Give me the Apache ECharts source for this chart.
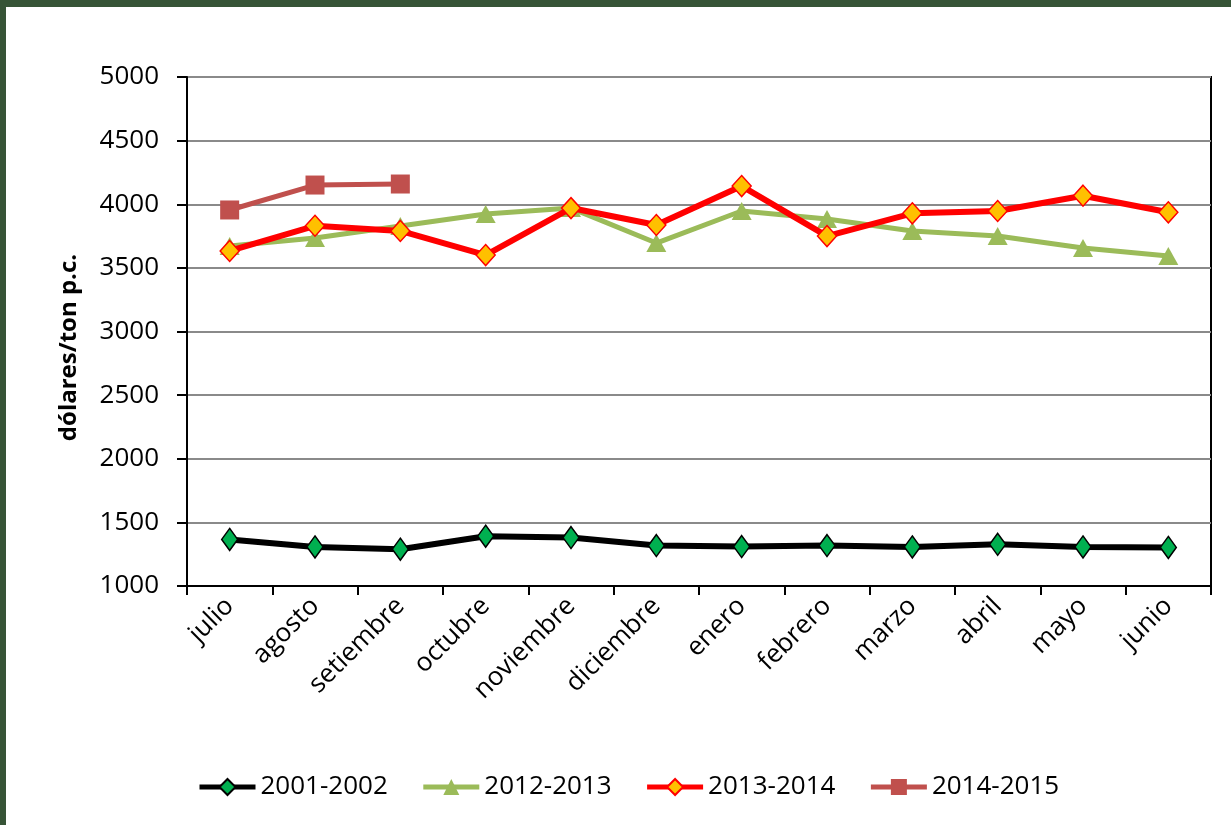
<!DOCTYPE html>
<html><head><meta charset="utf-8">
<script src="https://cdn.jsdelivr.net/npm/echarts@6/dist/echarts.min.js"></script>
<style>
html,body{margin:0;padding:0;background:#fff;}
#frame{position:absolute;left:0;top:0;width:1231px;height:825px;box-sizing:border-box;border-top:7px solid #375437;border-left:6px solid #375437;}
#c{position:absolute;left:0;top:0;width:1231px;height:825px;}
</style></head>
<body><div id="frame"></div><div id="c"></div>
<script>
const categories = ['julio','agosto','setiembre','octubre','noviembre','diciembre','enero','febrero','marzo','abril','mayo','junio'];
const s2001 = [1366,1307,1289,1391,1381,1318,1310,1318,1307,1328,1307,1303];
const s2012 = [3672,3735,3829,3923,3970,3695,3947,3884,3790,3751,3656,3593];
const s2013 = [3633,3831,3790,3601,3970,3837,4143,3750,3929,3947,4067,3937];
const s2014 = [3955,4151,4159];
const seriesNames = ['2001-2002','2012-2013','2013-2014','2014-2015'];
const yTicks = {min:1000, max:5000, interval:500};
const FONT = 'Open Sans';

const chart = echarts.init(document.getElementById('c'), null, {renderer:'canvas'});
chart.setOption({
  animation:false,
  backgroundColor:'transparent',
  textStyle:{fontFamily:FONT},
  grid:{left:187, top:77, right:20, bottom:239, show:true, borderColor:'#000', borderWidth:2, backgroundColor:'transparent'},
  legend:{
    bottom:20, left:192, itemWidth:56, itemHeight:20, itemGap:33,
    textStyle:{fontFamily:FONT, fontSize:26, color:'#000'},
    lineStyle:{width:5},
    data:seriesNames
  },
  xAxis:{
    type:'category', data:categories, boundaryGap:true,
    axisLine:{lineStyle:{color:'#000', width:2}},
    axisTick:{show:true, length:9, lineStyle:{color:'#000', width:2}},
    axisLabel:{rotate:45, fontSize:26, color:'#000', fontFamily:FONT, margin:16, interval:0},
    splitLine:{show:false}
  },
  yAxis:{
    type:'value', min:yTicks.min, max:yTicks.max, interval:yTicks.interval,
    name:'dólares/ton p.c.', nameLocation:'middle', nameGap:106,
    nameTextStyle:{fontSize:24, fontWeight:'bold', color:'#000', fontFamily:FONT, padding:[0,32,0,0]},
    axisLine:{show:true, lineStyle:{color:'#000', width:2}},
    axisTick:{show:true, length:10, lineStyle:{color:'#000', width:2}},
    axisLabel:{fontSize:26, color:'#000', fontFamily:FONT, margin:28, formatter:function(v){return String(v);}},
    splitLine:{lineStyle:{color:'#8a8a8a', width:2}}
  },
  series:[
    {name:seriesNames[0], type:'line', data:s2001, z:3,
     lineStyle:{color:'#000', width:6}, symbol:'diamond', symbolSize:[16,22],
     itemStyle:{color:'#00B050', borderColor:'#000', borderWidth:1.5}},
    {name:seriesNames[1], type:'line', data:s2012, z:2,
     lineStyle:{color:'#9BBB59', width:5}, symbol:'triangle', symbolSize:[20,18],
     itemStyle:{color:'#9BBB59', borderColor:'#9BBB59', borderWidth:0}},
    {name:seriesNames[2], type:'line', data:s2013, z:4,
     lineStyle:{color:'#FF0000', width:6}, symbol:'diamond', symbolSize:[19,21],
     itemStyle:{color:'#FFC000', borderColor:'#FF0000', borderWidth:1.5}},
    {name:seriesNames[3], type:'line', data:s2014, z:5,
     lineStyle:{color:'#C0504D', width:5}, symbol:'rect', symbolSize:19,
     itemStyle:{color:'#C0504D', borderColor:'#C0504D', borderWidth:0}}
  ]
});
</script></body></html>
